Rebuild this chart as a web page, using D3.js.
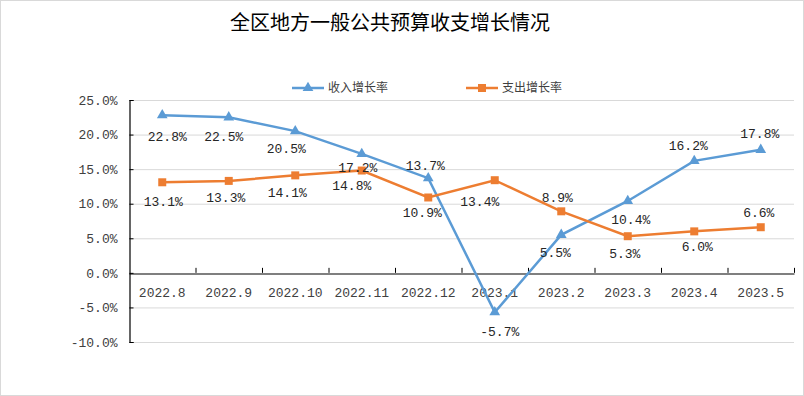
<!DOCTYPE html>
<html>
<head>
<meta charset="utf-8">
<script src="https://cdn.jsdelivr.net/npm/d3@7"></script>
<style>
  body { margin: 0; background: #fff; }
  svg text { font-family: "Liberation Mono", "DejaVu Sans Mono", monospace; }
</style>
</head>
<body>
<svg id="chart"></svg>
<script>
// chart data
const months = ["2022.8", "2022.9", "2022.10", "2022.11", "2022.12", "2023.1", "2023.2", "2023.3", "2023.4", "2023.5"];
const incomeGrowth = [22.8, 22.5, 20.5, 17.2, 13.7, -5.7, 5.5, 10.4, 16.2, 17.8];
const spendGrowth = [13.1, 13.3, 14.1, 14.8, 10.9, 13.4, 8.9, 5.3, 6.0, 6.6];
const yTicks = [-10, -5, 0, 5, 10, 15, 20, 25];
const seriesNames = ["收入增长率", "支出增长率"];

// label offsets relative to the point (dx, dy)
const incomeLabelPos = [[5, 21], [-5, 19], [-9, 17], [-4, 14], [-3, -13], [5, 19], [-6, 18], [3, 19], [-6, -15], [-1, -16]];
const spendLabelPos = [[1, 19], [-3, 17], [-8, 17], [-10, 15], [-6, 15], [-15, 21], [-4, -14], [-3, 17], [3, 15], [-2, -15]];

const W = 804, H = 396;
const margin = {top: 100, right: 10, bottom: 54, left: 129};

const svg = d3.select("#chart").attr("width", W).attr("height", H);

// outer frame
svg.append("rect")
    .attr("x", 0.5).attr("y", 0.5)
    .attr("width", W - 1).attr("height", H - 1)
    .attr("fill", "#fff").attr("stroke", "#d9d9d9");

const x = d3.scaleBand().domain(months).range([margin.left, W - margin.right]);
const y = d3.scaleLinear().domain([-10, 25]).range([H - margin.bottom, margin.top]);

// title
svg.append("text")
    .attr("x", 390).attr("y", 30)
    .attr("text-anchor", "middle")
    .style("font-family", "'Noto Sans CJK SC', sans-serif")
    .style("font-size", "20px")
    .style("font-weight", 400)
    .attr("fill", "#000")
    .text("全区地方一般公共预算收支增长情况");

// gridlines
svg.append("g")
    .selectAll("line")
    .data(yTicks.filter(d => d !== 0))
    .join("line")
    .attr("x1", margin.left).attr("x2", W - margin.right)
    .attr("y1", d => y(d) + 0.5).attr("y2", d => y(d) + 0.5)
    .attr("stroke", "#d9d9d9");

// y axis
const yAxis = svg.append("g")
    .attr("transform", `translate(${margin.left + 0.5},0)`)
    .call(d3.axisLeft(y).tickValues(yTicks).tickSize(-4).tickPadding(12)
        .tickFormat(d => d.toFixed(1) + "%"));
yAxis.select(".domain").attr("stroke", "#000").attr("stroke-width", 1.2);
yAxis.selectAll(".tick line").attr("stroke", "#000");
yAxis.selectAll("text").style("font-size", "13px").attr("fill", "#404040")
    .style("font-family", "'Liberation Mono', monospace");

// x axis on zero line
const xAxis = svg.append("g")
    .attr("transform", `translate(0,${Math.round(y(0)) + 0.5})`)
    .call(d3.axisBottom(x).tickSize(0).tickPadding(14));
xAxis.select(".domain").attr("stroke", "#000").attr("stroke-width", 1.2);
xAxis.selectAll("text").style("font-size", "13px").attr("fill", "#404040");

// category boundary ticks
svg.append("g")
    .selectAll("line")
    .data(months)
    .join("line")
    .attr("x1", d => x(d) + x.bandwidth() + 0.5)
    .attr("x2", d => x(d) + x.bandwidth() + 0.5)
    .attr("y1", y(0) - 5).attr("y2", y(0))
    .attr("stroke", "#000");

const cx = (d, i) => x(months[i]) + x.bandwidth() / 2;

const line = d3.line().x((d, i) => cx(d, i)).y(d => y(d));

const series = [
    {name: seriesNames[0], values: incomeGrowth, color: "#5b9bd5", marker: "triangle", labels: incomeLabelPos},
    {name: seriesNames[1], values: spendGrowth, color: "#ed7d31", marker: "square", labels: spendLabelPos}
];

const triangle = d3.symbol().type(d3.symbolTriangle).size(50);
const square = d3.symbol().type(d3.symbolSquare).size(64);

series.forEach(s => {
    svg.append("path")
        .datum(s.values)
        .attr("d", line)
        .attr("fill", "none")
        .attr("stroke", s.color)
        .attr("stroke-width", 2.5);

    svg.append("g")
        .selectAll("path")
        .data(s.values)
        .join("path")
        .attr("transform", (d, i) => `translate(${cx(d, i)},${y(d)})`)
        .attr("d", s.marker === "triangle" ? triangle : square)
        .attr("fill", s.color);
});

// data labels
series.forEach(s => {
    svg.append("g")
        .selectAll("text")
        .data(s.values)
        .join("text")
        .attr("x", (d, i) => cx(d, i) + s.labels[i][0])
        .attr("y", (d, i) => y(d) + s.labels[i][1])
        .attr("dy", "0.35em")
        .attr("text-anchor", "middle")
        .style("font-size", "13px")
        .attr("fill", "#262626")
        .text(d => d.toFixed(1) + "%");
});

// legend
const legendX = [292, 466];
series.forEach((s, i) => {
    const g = svg.append("g").attr("transform", `translate(${legendX[i]},88)`);
    g.append("line")
        .attr("x1", 0).attr("x2", 32)
        .attr("stroke", s.color).attr("stroke-width", 2.5);
    g.append("path")
        .attr("transform", "translate(16,0)")
        .attr("d", s.marker === "triangle" ? triangle : square)
        .attr("fill", s.color);
    g.append("text")
        .attr("x", 36).attr("dy", "0.35em")
        .style("font-family", "'Noto Sans CJK SC', sans-serif")
        .style("font-size", "12px")
        .attr("fill", "#404040")
        .text(s.name);
});
</script>
</body>
</html>
